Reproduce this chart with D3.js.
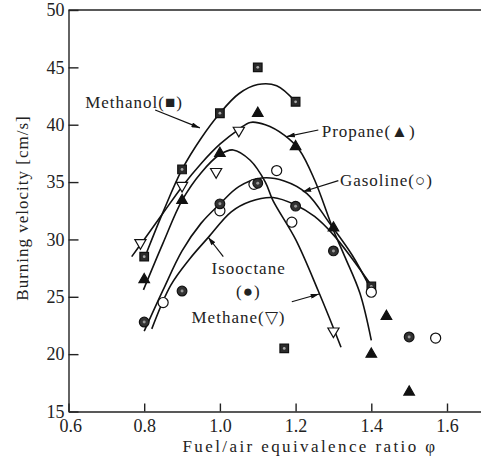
<!DOCTYPE html>
<html>
<head>
<meta charset="utf-8">
<style>
    html, body { margin: 0; padding: 0; background: #fff; }
    svg text { font-family: "Liberation Serif", "Times New Roman", serif; fill: #222; }
    .axis text { font-size: 18px; }
    .axis line, .axis path { stroke: #222; stroke-width: 1.4; }
    .ann { font-size: 17px; letter-spacing: 1px; }
    .fit { fill: none; stroke: #111; stroke-width: 1.6; }
</style>
</head>
<body>
<svg width="481" height="469">
    <defs>
        <marker id="arrow" viewBox="0 0 10 6" refX="10" refY="3" markerWidth="9" markerHeight="5" orient="auto" markerUnits="userSpaceOnUse">
            <path d="M0,0 L10,3 L0,6 Z" fill="#111"/>
        </marker>
    </defs>
</svg>
<script src="https://d3js.org/d3.v7.min.js"></script>
<script>
    // ticks
    var phiTicks = [0.6, 0.8, 1.0, 1.2, 1.4, 1.6];
    var velTicks = [15, 20, 25, 30, 35, 40, 45, 50];

    // measured points [phi, burning velocity]
    var methanol = [[0.8,28.5],[0.9,36.1],[1.0,41.0],[1.1,45.0],[1.2,42.0],[1.17,20.5],[1.4,25.9]];
    var propane = [[0.8,26.5],[0.9,33.4],[1.0,37.5],[1.1,41.0],[1.2,38.1],[1.3,31.0],[1.4,20.0],[1.44,23.3],[1.5,16.7]];
    var gasoline = [[0.85,24.5],[1.0,32.5],[1.09,34.8],[1.15,36.0],[1.19,31.5],[1.4,25.4],[1.57,21.4]];
    var isooctane = [[0.8,22.8],[0.9,25.5],[1.0,33.1],[1.1,34.9],[1.2,32.9],[1.3,29.0],[1.5,21.5]];
    var methane = [[0.79,29.7],[0.9,34.7],[0.99,35.9],[1.05,39.5],[1.3,22.0]];

    // fitted curves as drawn in the figure
    var fitMethanol = [[0.807,28.9],[0.85,32.4],[0.9,36.1],[0.95,38.8],[1.0,41.0],[1.05,42.7],[1.1,43.5],[1.15,43.4],[1.2,42.0]];
    var fitPropane = [[0.767,28.5],[0.8,30.0],[0.85,32.3],[0.9,34.6],[0.95,36.6],[1.0,38.3],[1.05,39.6],[1.08,40.2],[1.12,40.0],[1.17,39.1],[1.21,37.8],[1.25,35.2],[1.3,30.8],[1.33,28.5],[1.37,25.3],[1.4,21.2]];
    var fitMethane = [[0.798,25.6],[0.85,29.7],[0.9,33.4],[0.95,35.8],[1.0,37.4],[1.035,37.8],[1.08,36.9],[1.12,35.0],[1.14,33.4],[1.2,30.0],[1.26,25.5],[1.32,20.6]];
    var fitGasoline = [[0.8,22.0],[0.85,25.6],[0.9,29.0],[0.95,31.4],[1.0,33.1],[1.05,34.6],[1.11,35.35],[1.17,35.1],[1.23,34.0],[1.29,31.4],[1.35,28.6],[1.4,25.6]];
    var fitIsooctane = [[0.82,22.2],[0.87,26.0],[0.92,28.3],[0.97,30.2],[1.03,32.4],[1.08,33.3],[1.14,33.65],[1.2,33.0],[1.25,32.0],[1.3,30.4],[1.35,28.3],[1.4,26.0]];

    var svg = d3.select("svg");

    var x = d3.scaleLinear().domain([0.6, 1.7]).range([68.5, 484.85]);
    var y = d3.scaleLinear().domain([15, 50]).range([411.5, 10]);

    // frame top
    svg.append("line")
        .attr("x1", x(0.6)).attr("x2", 481)
        .attr("y1", y(50)).attr("y2", y(50))
        .attr("stroke", "#222").attr("stroke-width", 1.4);

    var axB = svg.append("g")
        .attr("class", "axis")
        .attr("transform", "translate(0," + y(15) + ")")
        .call(d3.axisBottom(x).tickValues(phiTicks).tickFormat(d3.format(".1f"))
            .tickSizeInner(-8).tickSizeOuter(0).tickPadding(8));
    axB.selectAll("text").attr("fill", "#222");

    var axL = svg.append("g")
        .attr("class", "axis")
        .attr("transform", "translate(" + x(0.6) + ",0)")
        .call(d3.axisLeft(y).tickValues(velTicks)
            .tickSizeInner(-10).tickSizeOuter(0).tickPadding(4));
    axL.selectAll("text").attr("fill", "#222");
    axB.select(".tick text").attr("dx", "0.1em");

    svg.append("text")
        .attr("x", 310).attr("y", 452)
        .attr("text-anchor", "middle")
        .style("font-size", "17px").style("letter-spacing", "2.4px")
        .text("Fuel/air equivalence ratio \u03c6");

    svg.append("text")
        .attr("transform", "translate(28,208) rotate(-90)")
        .attr("text-anchor", "middle")
        .style("font-size", "17px").style("letter-spacing", "1px")
        .text("Burning velocity [cm/s]");

    // fitted curves
    var line = d3.line()
        .x(function(d) { return x(d[0]); })
        .y(function(d) { return y(d[1]); })
        .curve(d3.curveCatmullRom.alpha(0.5));

    [fitMethanol, fitPropane, fitMethane, fitGasoline, fitIsooctane].forEach(function(f) {
        svg.append("path").datum(f).attr("class", "fit").attr("d", line);
    });

    // markers
    function pts(data, type, size, rot, fill, stroke) {
        var g = svg.append("g");
        g.selectAll("path")
            .data(data)
            .enter().append("path")
            .attr("d", d3.symbol().type(type).size(size))
            .attr("transform", function(d) {
                return "translate(" + x(d[0]) + "," + y(d[1]) + ") rotate(" + rot + ")";
            })
            .attr("fill", fill)
            .attr("stroke", stroke)
            .attr("stroke-width", 1.2);
        return g;
    }

    pts(methanol, d3.symbolSquare, 74, 0, "#2b2b2b", "#111");
    pts(methanol, d3.symbolCircle, 6, 0, "#aaa", "none");
    pts(propane, d3.symbolTriangle, 48, 0, "#111", "#111");
    pts(gasoline, d3.symbolCircle, 80, 0, "#fff", "#111");
    pts(isooctane, d3.symbolCircle, 74, 0, "#333", "#111");
    pts(isooctane, d3.symbolCircle, 7, 0, "#999", "none");
    pts(methane, d3.symbolTriangle, 54, 180, "#fff", "#111");

    // annotations
    function label(px, py, txt) {
        svg.append("text").attr("class", "ann")
            .attr("x", x(px)).attr("y", y(py)).text(txt);
    }
    function arrow(x0, y0, x1, y1) {
        svg.append("line")
            .attr("x1", x(x0)).attr("y1", y(y0))
            .attr("x2", x(x1)).attr("y2", y(y1))
            .attr("stroke", "#111").attr("stroke-width", 1.2)
            .attr("marker-end", "url(#arrow)");
    }

    label(0.644, 41.46, "Methanol(\u25a0)");
    arrow(0.829, 41.28, 0.947, 39.72);

    label(1.269, 38.89, "Propane(\u25b2)");
    arrow(1.26, 39.54, 1.176, 38.96);

    label(1.317, 34.62, "Gasoline(\u25cb)");
    arrow(1.313, 35.12, 1.219, 34.16);

    label(0.978, 26.99, "Isooctane");
    svg.append("text").attr("class", "ann")
        .attr("x", x(1.075)).attr("y", y(24.94))
        .attr("text-anchor", "middle").text("(\u25cf)");
    arrow(1.009, 28.5, 0.969, 30.19);

    label(0.925, 22.72, "Methane(\u25bd)");
    arrow(1.19, 24.57, 1.262, 25.24);
</script>
</body>
</html>
